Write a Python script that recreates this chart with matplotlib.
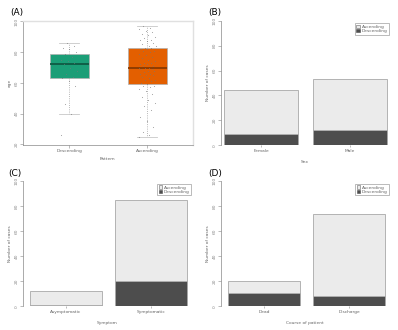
import matplotlib
matplotlib.use("Agg")
import matplotlib.pyplot as plt
import numpy as np
from matplotlib.patches import Patch

plt.rcParams['font.family'] = ['DejaVu Sans']

# ---- data ----
pattern_labels = ["Descending", "Ascending"]
age_desc = [26, 40, 46, 58, 61, 63, 64, 66, 68, 70, 72, 73, 74, 75, 77, 79, 80, 82, 83, 84, 86]
age_asc = [25, 26, 28, 31, 35, 38, 42, 45, 47, 49, 51, 53, 55, 56, 57, 58, 58, 59, 60, 61,
           62, 62, 63, 64, 65, 65, 66, 66, 67, 68, 68, 69, 69, 70, 70, 70, 71, 71, 72, 72,
           73, 73, 74, 75, 76, 77, 78, 79, 80, 81, 81, 82, 82, 83, 83, 84, 84, 85, 86, 87,
           88, 88, 89, 90, 91, 92, 93, 94, 95, 96, 97]
age_ticks = [20, 40, 60, 80, 100]

sex_labels = ["Female", "Male"]
sex_total = [44, 53]
sex_desc = [9, 12]

symptom_labels = ["Asymptomatic", "Symptomatic"]
symptom_total = [12, 85]
symptom_desc = [1, 20]

course_labels = ["Dead", "Discharge"]
course_total = [20, 74]
course_desc = [11, 8]

count_ticks = [0, 20, 40, 60, 80, 100]

FS = 3.2
light = "#EBEBEB"
dark = "#4D4D4D"
edge = "#A8A8A8"

fig = plt.figure(figsize=(3.98, 3.30), dpi=100)

def fx(px):
    return px / 398.0

def fy(py):
    return 1 - py / 330.0

# ---- Panel A ----
axA = fig.add_axes([fx(22.7), fy(145), fx(193 - 22.7), fy(20.7) - fy(145)])
data = [age_desc, age_asc]
cols = ["#1B9E77", "#E35F00"]
meds = ["#0E5A43", "#8A3A00"]
bp = axA.boxplot(data, positions=[0, 1], widths=0.5, patch_artist=True,
                 showfliers=False, whis=1.5)
for i, b in enumerate(bp['boxes']):
    b.set_facecolor(cols[i])
    b.set_edgecolor("#B0B0B0")
    b.set_linewidth(0.5)
for i, m in enumerate(bp['medians']):
    m.set_color(meds[i])
    m.set_linewidth(1.3)
for w in bp['whiskers']:
    w.set_color("#A0A0A0")
    w.set_linestyle(":")
    w.set_linewidth(0.6)
for c in bp['caps']:
    c.set_color("#C8C8C8")
    c.set_linewidth(0.6)
    xd = c.get_xdata()
    mid = np.mean(xd)
    c.set_xdata([mid - 0.13, mid + 0.13])
# jittered points (deterministic offsets)
for i, vals in enumerate(data):
    n = len(vals)
    offs = (((np.arange(n) * 0.618034) % 1.0) - 0.5) * 0.22
    axA.scatter(i + offs, vals, s=0.6, color="#777777", alpha=0.7, linewidths=0, zorder=3)
axA.set_xlim(-0.60, 1.59)
axA.set_ylim(19.5, 100.5)
axA.set_yticks(age_ticks)
axA.set_yticklabels([str(t) for t in age_ticks], rotation=90, va='center', fontsize=FS, color="#888888")
axA.set_xticks([0, 1])
axA.set_xticklabels(pattern_labels, fontsize=FS, color="#666666")
axA.set_xlabel("Pattern", fontsize=FS, color="#666666", labelpad=2.5)
axA.set_ylabel("age", fontsize=FS, color="#666666", labelpad=2)
for s in ['top', 'right']:
    axA.spines[s].set_color("#E0E0E0")
    axA.spines[s].set_linewidth(1.0)
for s in ['left', 'bottom']:
    axA.spines[s].set_color("#888888")
    axA.spines[s].set_linewidth(0.5)
axA.tick_params(length=2, width=0.4, color="#888888", pad=1)
fig.text(fx(10), fy(12), "(A)", fontsize=6.5, va='center', ha='left')


def bar_panel(rect, labels, total, desc, xlabel, xl, title, tpos):
    ax = fig.add_axes(rect)
    x = np.arange(len(labels))
    asc = [t - d for t, d in zip(total, desc)]
    ax.bar(x, desc, width=0.84, color=dark, edgecolor=edge, linewidth=0.6, label="Descending")
    ax.bar(x, asc, bottom=desc, width=0.84, color=light, edgecolor=edge, linewidth=0.6, label="Ascending")
    ax.set_xlim(*xl)
    ax.set_ylim(0, 100)
    ax.set_yticks(count_ticks)
    ax.set_yticklabels([str(t) for t in count_ticks], rotation=90, va='center', fontsize=FS, color="#888888")
    ax.set_xticks(x)
    ax.set_xticklabels(labels, fontsize=FS, color="#666666")
    ax.set_xlabel(xlabel, fontsize=FS, color="#666666", labelpad=5)
    ax.set_ylabel("Number of cases", fontsize=FS, color="#666666", labelpad=2)
    for s in ['top', 'right', 'bottom']:
        ax.spines[s].set_visible(False)
    ax.spines['left'].set_color("#888888")
    ax.spines['left'].set_linewidth(0.5)
    ax.tick_params(axis='y', length=2, width=0.4, color="#888888", pad=1)
    ax.tick_params(axis='x', length=1.5, width=0.4, color="#888888", pad=1)
    handles = [Patch(facecolor=light, edgecolor="#666666", linewidth=0.4, label="Ascending"),
               Patch(facecolor=dark, edgecolor=dark, linewidth=0.4, label="Descending")]
    leg = ax.legend(handles=handles, loc='upper right', bbox_to_anchor=(1.0, 0.985),
                    fontsize=FS, frameon=True, fancybox=False, handlelength=0.8,
                    handleheight=0.7, handletextpad=0.4, borderpad=0.3, labelspacing=0.1,
                    borderaxespad=0.2)
    leg.get_frame().set_edgecolor("#888888")
    leg.get_frame().set_linewidth(0.5)
    for t in leg.get_texts():
        t.set_color("#666666")
    fig.text(tpos[0], tpos[1], title, fontsize=6.5, va='center', ha='left')
    return ax

bar_panel([fx(220.7), fy(145.3), fx(389.7 - 220.7), fy(20.7) - fy(145.3)],
          sex_labels, sex_total, sex_desc, "Sex", (-0.455, 1.45), "(B)", (fx(208), fy(12)))
bar_panel([fx(22.7), fy(306.3), fx(192 - 22.7), fy(181.3) - fy(306.3)],
          symptom_labels, symptom_total, symptom_desc, "Symptom", (-0.51, 1.48), "(C)", (fx(8), fy(173)))
bar_panel([fx(220.7), fy(306.3), fx(390 - 220.7), fy(181.3) - fy(306.3)],
          course_labels, course_total, course_desc, "Course of patient", (-0.51, 1.48), "(D)", (fx(208), fy(173)))

fig.savefig("out.png", dpi=100)
